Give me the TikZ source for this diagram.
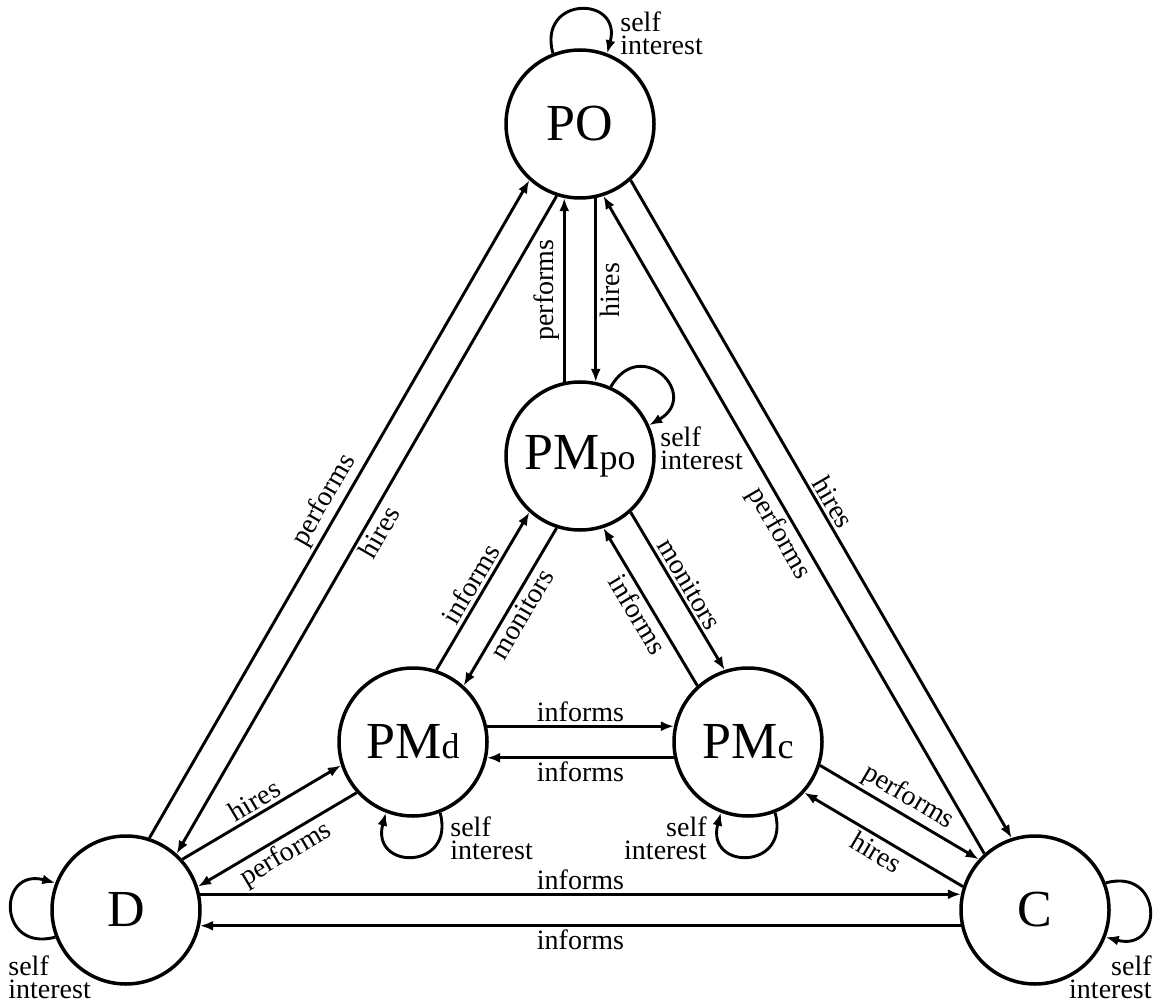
\documentclass[tikz,border=0pt]{standalone}
\usepackage{fontspec}
\setmainfont{Liberation Serif}
\usetikzlibrary{arrows.meta}

\begin{document}
\begin{tikzpicture}[x=0.5pt, y=0.5pt,
  >={Latex[length=6.5pt,width=5pt]},
  state/.style={circle, draw, line width=1.75pt, minimum size=74pt, inner sep=0pt,
                font=\fontsize{26}{26}\selectfont},
  rel/.style={line width=1.45pt},
  lbl/.style={font=\fontsize{14}{14}\selectfont, inner sep=1.5pt, sloped, midway},
  selfl/.style={font=\fontsize{14}{11.5}\selectfont, inner sep=0pt},
  loopy/.style={line width=1.45pt, ->}
]
\useasboundingbox (0,0) rectangle (1156,1003);

% roles
\node[state] (PO)   at (580,879) {PO};
\node[state] (PMpo) at (580,547) {PM{\fontsize{18}{18}\selectfont po}};
\node[state] (PMd)  at (413,261) {PM{\fontsize{18}{18}\selectfont d}};
\node[state] (PMc)  at (748,261) {PM{\fontsize{18}{18}\selectfont c}};
\node[state] (D)    at (126,93)  {D};
\node[state] (C)    at (1035,93) {C};

% PO -- PMpo
\draw[rel,->] (PMpo.102) -- node[lbl,above] {performs} (PO.258);
\draw[rel,<-] (PMpo.78)  -- node[lbl,below] {hires}    (PO.282);

% PO -- D
\draw[rel,->] (D.72) -- node[lbl,above] {performs} (PO.228);
\draw[rel,<-] (D.48) -- node[lbl,below] {hires}    (PO.252);

% PO -- C
\draw[rel,->] (PO.312) -- node[lbl,above] {hires}    (C.108);
\draw[rel,<-] (PO.288) -- node[lbl,below] {performs} (C.132);

% PMpo -- PMd
\draw[rel,->] (PMd.72) -- node[lbl,above] {informs}  (PMpo.228);
\draw[rel,<-] (PMd.48) -- node[lbl,below] {monitors} (PMpo.252);

% PMpo -- PMc
\draw[rel,->] (PMpo.312) -- node[lbl,above] {monitors} (PMc.108);
\draw[rel,<-] (PMpo.288) -- node[lbl,below] {informs}  (PMc.132);

% PMd -- PMc
\draw[rel,->] (PMd.12)  -- node[lbl,above] {informs} (PMc.168);
\draw[rel,<-] (PMd.348) -- node[lbl,below] {informs} (PMc.192);

% D -- PMd
\draw[rel,->] (D.42) -- node[lbl,above] {hires}    (PMd.198);
\draw[rel,<-] (D.18) -- node[lbl,below] {performs} (PMd.222);

% PMc -- C
\draw[rel,->] (PMc.342) -- node[lbl,above] {performs} (C.138);
\draw[rel,<-] (PMc.318) -- node[lbl,below] {hires}    (C.162);

% D -- C
\draw[rel,->] (D.12)  -- node[lbl,above] {informs} (C.168);
\draw[rel,<-] (D.348) -- node[lbl,below] {informs} (C.192);

% self-interest loops
\draw[loopy] (PO.111)   .. controls +(105:60) and +(75:60)  .. (PO.69);
\draw[loopy] (PMpo.66)  .. controls +(60:60)  and +(30:60)  .. (PMpo.24);
\draw[loopy] (PMd.291)  .. controls +(285:60) and +(255:60) .. (PMd.249);
\draw[loopy] (PMc.291)  .. controls +(285:60) and +(255:60) .. (PMc.249);
\draw[loopy] (D.201)    .. controls +(195:60) and +(165:60) .. (D.159);
\draw[loopy] (C.21)     .. controls +(15:60)  and +(-15:60) .. (C.-21);

\node[selfl, anchor=west, align=left]  (sPO)   at (620,970)  {self\\interest};
\node[selfl, anchor=west, align=left]  (sPMpo) at (660,555)  {self\\interest};
\node[selfl, anchor=west, align=left]  (sPMd)  at (450,165)  {self\\interest};
\node[selfl, anchor=east, align=right] (sPMc)  at (707,165)  {self\\interest};
\node[selfl, anchor=west, align=left]  (sD)    at (8,26)     {self\\interest};
\node[selfl, anchor=east, align=right] (sC)    at (1152,26)  {self\\interest};
\end{tikzpicture}
\end{document}
